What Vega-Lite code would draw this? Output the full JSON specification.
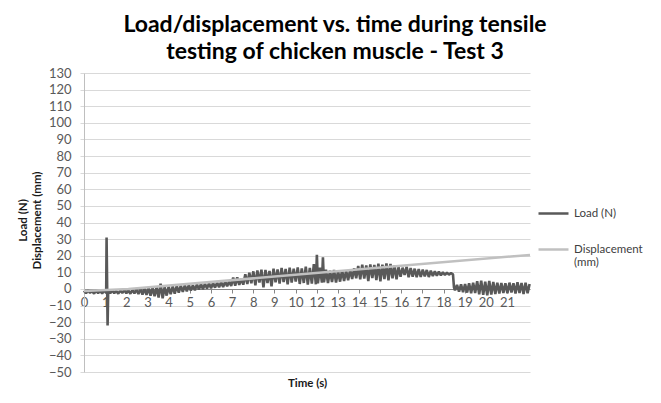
{
  "$schema": "https://vega.github.io/schema/vega-lite/v6.json",
  "autosize": {"type": "none"},
  "padding": {"left": 84, "top": 73, "right": 131, "bottom": 31},
  "width": 446,
  "height": 299,
  "background": "white",
  "title": {
    "text": ["Load/displacement vs. time during tensile", "testing of chicken muscle - Test 3"],
    "font": "Lato",
    "fontSize": 23,
    "fontWeight": "bold",
    "color": "#000000",
    "anchor": "middle",
    "frame": "group",
    "dx": 28,
    "offset": 3,
    "lineHeight": 27
  },
  "datasets": {
    "load": [
      {"t":0.0,"v":-1.0},{"t":0.1,"v":-2.6},{"t":0.2,"v":-0.8},{"t":0.3,"v":-2.4},{"t":0.4,"v":-1.2},{"t":0.5,"v":-2.8},{"t":0.6,"v":-0.9},{"t":0.7,"v":-2.5},{"t":0.8,"v":-1.1},{"t":0.9,"v":-2.7},
      {"t":1.0,"v":-0.8},{"t":1.1,"v":-2.4},{"t":1.12,"v":31},{"t":1.17,"v":-22},{"t":1.2,"v":-1.0},{"t":1.3,"v":-2.6},{"t":1.4,"v":-0.9},{"t":1.5,"v":-2.5},{"t":1.6,"v":-1.2},{"t":1.7,"v":-2.8},{"t":1.8,"v":-1.0},{"t":1.9,"v":-2.4},
      {"t":2.0,"v":-0.7},{"t":2.1,"v":-2.6},{"t":2.2,"v":-0.9},{"t":2.3,"v":-2.9},{"t":2.4,"v":-0.6},{"t":2.5,"v":-2.7},{"t":2.6,"v":-0.3},{"t":2.7,"v":-3.1},{"t":2.8,"v":0.2},{"t":2.9,"v":-3.4},
      {"t":3.0,"v":0.4},{"t":3.1,"v":-3.6},{"t":3.2,"v":0.6},{"t":3.3,"v":-4.0},{"t":3.4,"v":0.8},{"t":3.5,"v":-4.4},{"t":3.6,"v":1.0},{"t":3.7,"v":-5.2},{"t":3.8,"v":3.2},{"t":3.9,"v":-5.6},
      {"t":4.0,"v":1.2},{"t":4.1,"v":-4.0},{"t":4.2,"v":1.4},{"t":4.3,"v":-3.2},{"t":4.4,"v":1.6},{"t":4.5,"v":-2.8},{"t":4.6,"v":1.8},{"t":4.7,"v":-2.2},{"t":4.8,"v":2.0},{"t":4.9,"v":-1.8},
      {"t":5.0,"v":2.2},{"t":5.1,"v":-1.4},{"t":5.2,"v":2.4},{"t":5.3,"v":-1.0},{"t":5.4,"v":2.3},{"t":5.5,"v":-0.8},{"t":5.6,"v":2.8},{"t":5.7,"v":-0.4},{"t":5.8,"v":3.0},{"t":5.9,"v":-0.2},
      {"t":6.0,"v":3.2},{"t":6.1,"v":0.2},{"t":6.2,"v":3.4},{"t":6.3,"v":0.4},{"t":6.4,"v":3.6},{"t":6.5,"v":0.8},{"t":6.6,"v":3.8},{"t":6.7,"v":1.0},{"t":6.8,"v":4.2},{"t":6.9,"v":1.2},
      {"t":7.0,"v":4.4},{"t":7.1,"v":1.6},{"t":7.2,"v":4.6},{"t":7.3,"v":1.8},{"t":7.4,"v":6.8},{"t":7.5,"v":2.0},{"t":7.6,"v":7.0},{"t":7.7,"v":2.4},{"t":7.8,"v":6.0},{"t":7.9,"v":2.6},
      {"t":8.0,"v":8.8},{"t":8.1,"v":3.0},{"t":8.2,"v":9.8},{"t":8.3,"v":3.4},{"t":8.4,"v":10.6},{"t":8.5,"v":2.2},{"t":8.6,"v":11.2},{"t":8.7,"v":3.8},{"t":8.8,"v":11.6},{"t":8.9,"v":1.0},
      {"t":9.0,"v":11.4},{"t":9.1,"v":3.6},{"t":9.2,"v":10.8},{"t":9.3,"v":1.6},{"t":9.4,"v":12.2},{"t":9.5,"v":4.0},{"t":9.6,"v":11.8},{"t":9.7,"v":3.2},{"t":9.8,"v":12.6},{"t":9.9,"v":4.2},
      {"t":10.0,"v":12.0},{"t":10.1,"v":2.8},{"t":10.2,"v":12.8},{"t":10.3,"v":3.8},{"t":10.4,"v":12.2},{"t":10.5,"v":4.4},{"t":10.6,"v":13.0},{"t":10.7,"v":3.0},{"t":10.8,"v":12.4},{"t":10.9,"v":3.6},
      {"t":11.0,"v":13.4},{"t":11.1,"v":2.6},{"t":11.2,"v":12.6},{"t":11.3,"v":3.2},{"t":11.4,"v":15.0},{"t":11.5,"v":2.8},{"t":11.55,"v":20.5},{"t":11.6,"v":3.4},{"t":11.7,"v":12.8},{"t":11.8,"v":3.8},{"t":11.85,"v":19.0},{"t":11.9,"v":4.0},
      {"t":12.0,"v":11.6},{"t":12.1,"v":3.6},{"t":12.2,"v":11.0},{"t":12.3,"v":4.2},{"t":12.4,"v":11.4},{"t":12.5,"v":3.8},{"t":12.6,"v":10.8},{"t":12.7,"v":4.4},{"t":12.8,"v":11.2},{"t":12.9,"v":4.8},
      {"t":13.0,"v":11.0},{"t":13.1,"v":5.2},{"t":13.2,"v":11.6},{"t":13.3,"v":6.0},{"t":13.4,"v":12.4},{"t":13.5,"v":6.4},{"t":13.6,"v":13.8},{"t":13.7,"v":5.8},{"t":13.8,"v":14.6},{"t":13.9,"v":6.2},
      {"t":14.0,"v":14.2},{"t":14.1,"v":4.8},{"t":14.2,"v":14.8},{"t":14.3,"v":6.6},{"t":14.4,"v":14.4},{"t":14.5,"v":5.4},{"t":14.6,"v":15.2},{"t":14.7,"v":4.6},{"t":14.8,"v":14.6},{"t":14.9,"v":6.0},
      {"t":15.0,"v":15.4},{"t":15.1,"v":5.2},{"t":15.2,"v":15.0},{"t":15.3,"v":6.4},{"t":15.4,"v":14.2},{"t":15.5,"v":5.8},{"t":15.6,"v":13.2},{"t":15.7,"v":7.4},{"t":15.8,"v":12.8},{"t":15.9,"v":8.4},
      {"t":16.0,"v":13.4},{"t":16.1,"v":7.0},{"t":16.2,"v":12.6},{"t":16.3,"v":7.4},{"t":16.4,"v":12.2},{"t":16.5,"v":7.0},{"t":16.6,"v":12.0},{"t":16.7,"v":7.2},{"t":16.8,"v":11.6},{"t":16.9,"v":7.6},
      {"t":17.0,"v":11.4},{"t":17.1,"v":7.2},{"t":17.2,"v":11.0},{"t":17.3,"v":7.8},{"t":17.4,"v":10.6},{"t":17.5,"v":8.0},{"t":17.6,"v":10.4},{"t":17.7,"v":8.2},{"t":17.8,"v":10.0},{"t":17.9,"v":8.4},
      {"t":18.0,"v":9.8},{"t":18.1,"v":8.6},{"t":18.2,"v":9.6},{"t":18.3,"v":8.8},{"t":18.35,"v":1.0},{"t":18.4,"v":-0.8},{"t":18.5,"v":2.4},{"t":18.6,"v":-1.6},{"t":18.7,"v":2.8},{"t":18.8,"v":-2.0},{"t":18.9,"v":3.0},
      {"t":19.0,"v":-2.2},{"t":19.1,"v":3.4},{"t":19.2,"v":-2.6},{"t":19.3,"v":3.8},{"t":19.4,"v":-2.4},{"t":19.5,"v":4.6},{"t":19.6,"v":-3.2},{"t":19.7,"v":5.0},{"t":19.8,"v":-3.6},{"t":19.9,"v":4.4},
      {"t":20.0,"v":-3.8},{"t":20.1,"v":4.8},{"t":20.2,"v":-3.4},{"t":20.3,"v":4.2},{"t":20.4,"v":-3.0},{"t":20.5,"v":3.8},{"t":20.6,"v":-2.8},{"t":20.7,"v":3.6},{"t":20.8,"v":-2.4},{"t":20.9,"v":3.4},
      {"t":21.0,"v":-2.6},{"t":21.1,"v":3.8},{"t":21.2,"v":-2.2},{"t":21.3,"v":3.4},{"t":21.4,"v":-2.8},{"t":21.5,"v":4.0},{"t":21.6,"v":-2.4},{"t":21.7,"v":3.6},{"t":21.8,"v":-3.0},{"t":21.9,"v":3.8},
      {"t":22.0,"v":-2.6},{"t":22.1,"v":3.0}
    ],
    "disp": [
      {"t":0.0,"v":-1.2},{"t":2.2,"v":0.0},{"t":22.12,"v":20.5}
    ]
  },
  "layer": [
    {
      "data": {"name": "load"},
      "mark": {"type": "line", "strokeWidth": 2.6, "interpolate": "linear", "strokeJoin": "bevel"},
      "encoding": {
        "x": {"field": "t", "type": "quantitative"},
        "y": {"field": "v", "type": "quantitative"},
        "color": {
          "datum": "Load (N)",
          "type": "nominal",
          "scale": {"domain": ["Load (N)", "Displacement (mm)"], "range": ["#595959", "#c0c0c0"]},
          "legend": {
            "orient": "none",
            "legendX": 453,
            "legendY": 124,
            "title": null,
            "symbolType": "stroke",
            "symbolSize": 900,
            "symbolStrokeWidth": 2.5,
            "labelFontSize": 11.5,
            "labelColor": "#404040",
            "labelFont": "Lato",
            "rowPadding": 14,
            "labelBaseline": "middle",
            "labelExpr": "datum.label == 'Displacement (mm)' ? ['Displacement', '(mm)'] : datum.label",
            "labelLimit": 200
          }
        }
      }
    },
    {
      "data": {"name": "disp"},
      "mark": {"type": "line", "strokeWidth": 2.5},
      "encoding": {
        "x": {"field": "t", "type": "quantitative"},
        "y": {"field": "v", "type": "quantitative"},
        "color": {"datum": "Displacement (mm)", "type": "nominal"}
      }
    }
  ],
  "encoding": {
    "x": {
      "field": "t",
      "type": "quantitative",
      "scale": {"domain": [0, 22.12], "nice": false, "zero": false},
      "axis": {
        "title": "Time (s)",
        "offset": -83,
        "values": [0, 1.049, 2.098, 3.147, 4.196, 5.245, 6.294, 7.343, 8.392, 9.441, 10.49, 11.539, 12.588, 13.637, 14.686, 15.735, 16.784, 17.833, 18.882, 19.931, 20.98],
        "labelExpr": "format(round(datum.value), 'd')",
        "grid": false,
        "domainColor": "#868686",
        "tickColor": "#868686",
        "tickSize": 4,
        "labelPadding": 3,
        "labelFontSize": 13,
        "labelColor": "#595959",
        "labelFlush": false,
        "labelOverlap": false,
        "titleFontSize": 11.5,
        "titleFontWeight": "bold",
        "titleColor": "#1a1a1a",
        "titleY": 97,
        "titleBaseline": "alphabetic"
      }
    },
    "y": {
      "field": "v",
      "type": "quantitative",
      "scale": {"domain": [-50, 130], "nice": false, "zero": false},
      "axis": {
        "title": ["Load (N)", "Displacement (mm)"],
        "values": [-50, -40, -30, -20, -10, 0, 10, 20, 30, 40, 50, 60, 70, 80, 90, 100, 110, 120, 130],
        "grid": true,
        "gridColor": "#d9d9d9",
        "domainColor": "#bfbfbf",
        "tickColor": "#d9d9d9",
        "tickSize": 4,
        "labelPadding": 9,
        "labelFontSize": 13,
        "labelColor": "#595959",
        "labelFlush": false,
        "labelOverlap": false,
        "titleFontSize": 11.5,
        "titleFontWeight": "bold",
        "titleColor": "#1a1a1a",
        "titleX": -67,
        "titleY": 147,
        "titleBaseline": "top",
        "titleAlign": "center",
        "titleLineHeight": 14
      }
    }
  },
  "config": {
    "font": "Lato",
    "view": {"stroke": null}
  }
}
